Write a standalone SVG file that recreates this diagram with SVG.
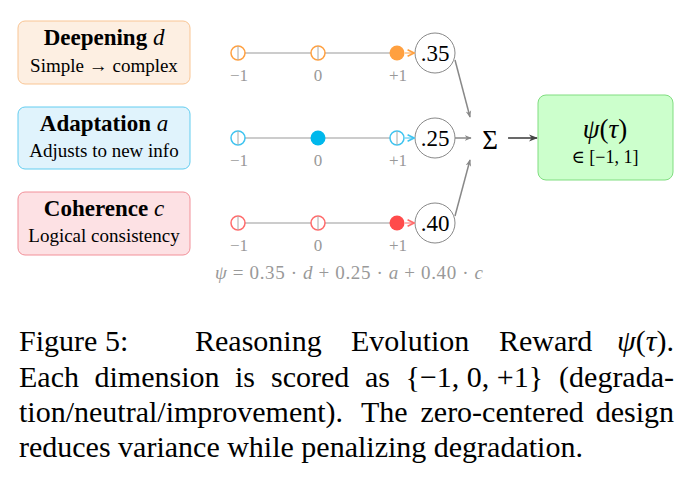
<svg xmlns="http://www.w3.org/2000/svg" width="694" height="480" viewBox="0 0 694 480">
<defs>
<style>
.serif{font-family:"Liberation Serif","DejaVu Serif",serif;}
.title{font-family:"Liberation Serif",serif;font-weight:bold;font-size:23px;fill:#000;text-anchor:middle;}
.sub{font-family:"Liberation Serif","DejaVu Serif",serif;font-size:19px;fill:#000;text-anchor:middle;}
.tick{font-family:"Liberation Serif",serif;font-size:17px;fill:#999;text-anchor:middle;}
.axis{stroke:#bbb;stroke-width:1.6;}
.vt{stroke:#aaa;stroke-width:1;}
.wc{fill:#fff;stroke:#888;stroke-width:1;}
.wt{font-family:"Liberation Serif",serif;font-size:23px;fill:#000;text-anchor:middle;}
.conn{stroke:#888;stroke-width:1.5;fill:none;}
.cap{font-family:"Liberation Serif",serif;font-size:30px;fill:#000;}
.end{text-anchor:end;}
</style>
<marker id="ag" viewBox="0 0 10 10" refX="9" refY="5" markerWidth="7" markerHeight="7" orient="auto" markerUnits="userSpaceOnUse"><path d="M0,1 L10,5 L0,9 L3,5 Z" fill="#888"/></marker>
<marker id="ad" viewBox="0 0 10 10" refX="9" refY="5" markerWidth="9" markerHeight="9" orient="auto" markerUnits="userSpaceOnUse"><path d="M0,1 L10,5 L0,9 L3,5 Z" fill="#444"/></marker>
<marker id="ao" viewBox="0 0 10 10" refX="9" refY="5" markerWidth="8" markerHeight="8" orient="auto" markerUnits="userSpaceOnUse"><path d="M1,1 L9,5 L1,9" fill="none" stroke="#FFA040" stroke-width="2"/></marker>
<marker id="ab" viewBox="0 0 10 10" refX="9" refY="5" markerWidth="8" markerHeight="8" orient="auto" markerUnits="userSpaceOnUse"><path d="M1,1 L9,5 L1,9" fill="none" stroke="#3FC4F0" stroke-width="2"/></marker>
<marker id="ar" viewBox="0 0 10 10" refX="9" refY="5" markerWidth="8" markerHeight="8" orient="auto" markerUnits="userSpaceOnUse"><path d="M1,1 L9,5 L1,9" fill="none" stroke="#FF6B6B" stroke-width="2"/></marker>
</defs>
<rect width="694" height="480" fill="#fff"/>

<g id="box-deepening">
<rect x="18" y="21" width="172" height="63" rx="7" fill="#FDEFE2" stroke="#F9C594" stroke-width="1"/>
<text class="title" x="104" y="45">Deepening <tspan font-weight="normal" font-style="italic">d</tspan></text>
<text class="sub" x="104" y="72">Simple → complex</text>
</g>
<g id="box-adaptation">
<rect x="18" y="107" width="172" height="62" rx="7" fill="#E0F3FC" stroke="#62CDF0" stroke-width="1"/>
<text class="title" x="104" y="131">Adaptation <tspan font-weight="normal" font-style="italic">a</tspan></text>
<text class="sub" x="104" y="157">Adjusts to new info</text>
</g>
<g id="box-coherence">
<rect x="18" y="192" width="172" height="63" rx="7" fill="#FDE1E4" stroke="#F29099" stroke-width="1"/>
<text class="title" x="104" y="216">Coherence <tspan font-weight="normal" font-style="italic">c</tspan></text>
<text class="sub" x="104" y="242">Logical consistency</text>
</g>

<g id="scale-d">
<line class="axis" x1="238" y1="53" x2="397" y2="53"/>
<circle cx="238" cy="53" r="7" fill="#fff" stroke="#FFA040" stroke-width="1.5"/><line class="vt" x1="238" y1="46" x2="238" y2="60"/>
<circle cx="318" cy="53" r="7" fill="#fff" stroke="#FFA040" stroke-width="1.5"/><line class="vt" x1="318" y1="46" x2="318" y2="60"/>
<circle cx="397" cy="53" r="7.5" fill="#FFA040"/>
<text class="tick" x="239" y="81">−1</text><text class="tick" x="318" y="81">0</text><text class="tick" x="398" y="81">+1</text>
</g>
<g id="scale-a">
<line class="axis" x1="238" y1="138" x2="397" y2="138"/>
<circle cx="238" cy="138" r="7" fill="#fff" stroke="#3FC4F0" stroke-width="1.5"/><line class="vt" x1="238" y1="131" x2="238" y2="145"/>
<circle cx="318" cy="138" r="7.5" fill="#00B8EC"/>
<circle cx="397" cy="138" r="7" fill="#fff" stroke="#3FC4F0" stroke-width="1.5"/><line class="vt" x1="397" y1="131" x2="397" y2="145"/>
<text class="tick" x="239" y="166">−1</text><text class="tick" x="318" y="166">0</text><text class="tick" x="398" y="166">+1</text>
</g>
<g id="scale-c">
<line class="axis" x1="238" y1="223" x2="397" y2="223"/>
<circle cx="238" cy="223" r="7" fill="#fff" stroke="#FF6B6B" stroke-width="1.5"/><line class="vt" x1="238" y1="216" x2="238" y2="230"/>
<circle cx="318" cy="223" r="7" fill="#fff" stroke="#FF6B6B" stroke-width="1.5"/><line class="vt" x1="318" y1="216" x2="318" y2="230"/>
<circle cx="397" cy="223" r="7.5" fill="#FF4B4B"/>
<text class="tick" x="239" y="251">−1</text><text class="tick" x="318" y="251">0</text><text class="tick" x="398" y="251">+1</text>
</g>

<g id="w-d"><circle class="wc" cx="435" cy="53" r="20"/><text class="wt" x="435" y="61">.35</text></g>
<g id="w-a"><circle class="wc" cx="435" cy="138" r="20"/><text class="wt" x="435" y="146">.25</text></g>
<g id="w-c"><circle class="wc" cx="435" cy="223" r="20"/><text class="wt" x="435" y="231">.40</text></g>

<g id="sum"><text class="serif" x="490" y="149" font-size="27" text-anchor="middle">Σ</text></g>

<g id="result">
<rect x="538" y="95" width="135" height="85" rx="8" fill="#CCFFCC" stroke="#80DD80" stroke-width="1"/>
<text class="serif" x="605" y="138" font-size="27" text-anchor="middle"><tspan font-style="italic">ψ</tspan>(<tspan font-style="italic">τ</tspan>)</text>
<text class="serif" x="605" y="163" font-size="18" text-anchor="middle">∈ [−1, 1]</text>
</g>

<g id="connectors">
<line x1="405" y1="53" x2="414" y2="53" stroke="#FFA040" stroke-width="1" marker-end="url(#ao)"/>
<line x1="405" y1="138" x2="414" y2="138" stroke="#3FC4F0" stroke-width="1" marker-end="url(#ab)"/>
<line x1="405" y1="223" x2="414" y2="223" stroke="#FF6B6B" stroke-width="1" marker-end="url(#ar)"/>
<line class="conn" x1="455" y1="60" x2="470" y2="117" marker-end="url(#ag)"/>
<line class="conn" x1="455" y1="138" x2="471" y2="138" marker-end="url(#ag)"/>
<line class="conn" x1="455" y1="216" x2="470" y2="160" marker-end="url(#ag)"/>
<line x1="508" y1="138" x2="537" y2="138" stroke="#444" stroke-width="1.6" marker-end="url(#ad)"/>
</g>

<g id="formula">
<text class="serif" x="215" y="279" font-size="19" fill="#999" textLength="268" lengthAdjust="spacing"><tspan font-style="italic">ψ</tspan> = 0.35 · <tspan font-style="italic">d</tspan> + 0.25 · <tspan font-style="italic">a</tspan> + 0.40 · <tspan font-style="italic">c</tspan></text>
</g>

<g id="caption">
<text class="cap" y="351"><tspan x="19">Figure</tspan><tspan x="105">5:</tspan><tspan x="195">Reasoning</tspan><tspan x="351">Evolution</tspan><tspan x="499">Reward</tspan></text>
<text class="cap end" x="674" y="351"><tspan font-style="italic">ψ</tspan>(<tspan font-style="italic">τ</tspan>).</text>
<text class="cap" y="387"><tspan x="19">Each</tspan><tspan x="94.5">dimension</tspan><tspan x="235">is</tspan><tspan x="271">scored</tspan><tspan x="365">as</tspan><tspan x="405.5">{−1, 0, +1}</tspan></text>
<text class="cap end" x="674" y="387">(degrada-</text>
<text class="cap" y="422"><tspan x="19">tion/neutral/improvement).</tspan><tspan x="361">The</tspan><tspan x="420.5">zero-centered</tspan></text>
<text class="cap end" x="674" y="422">design</text>
<text class="cap" x="19" y="457">reduces variance while penalizing degradation.</text>
</g>
</svg>
